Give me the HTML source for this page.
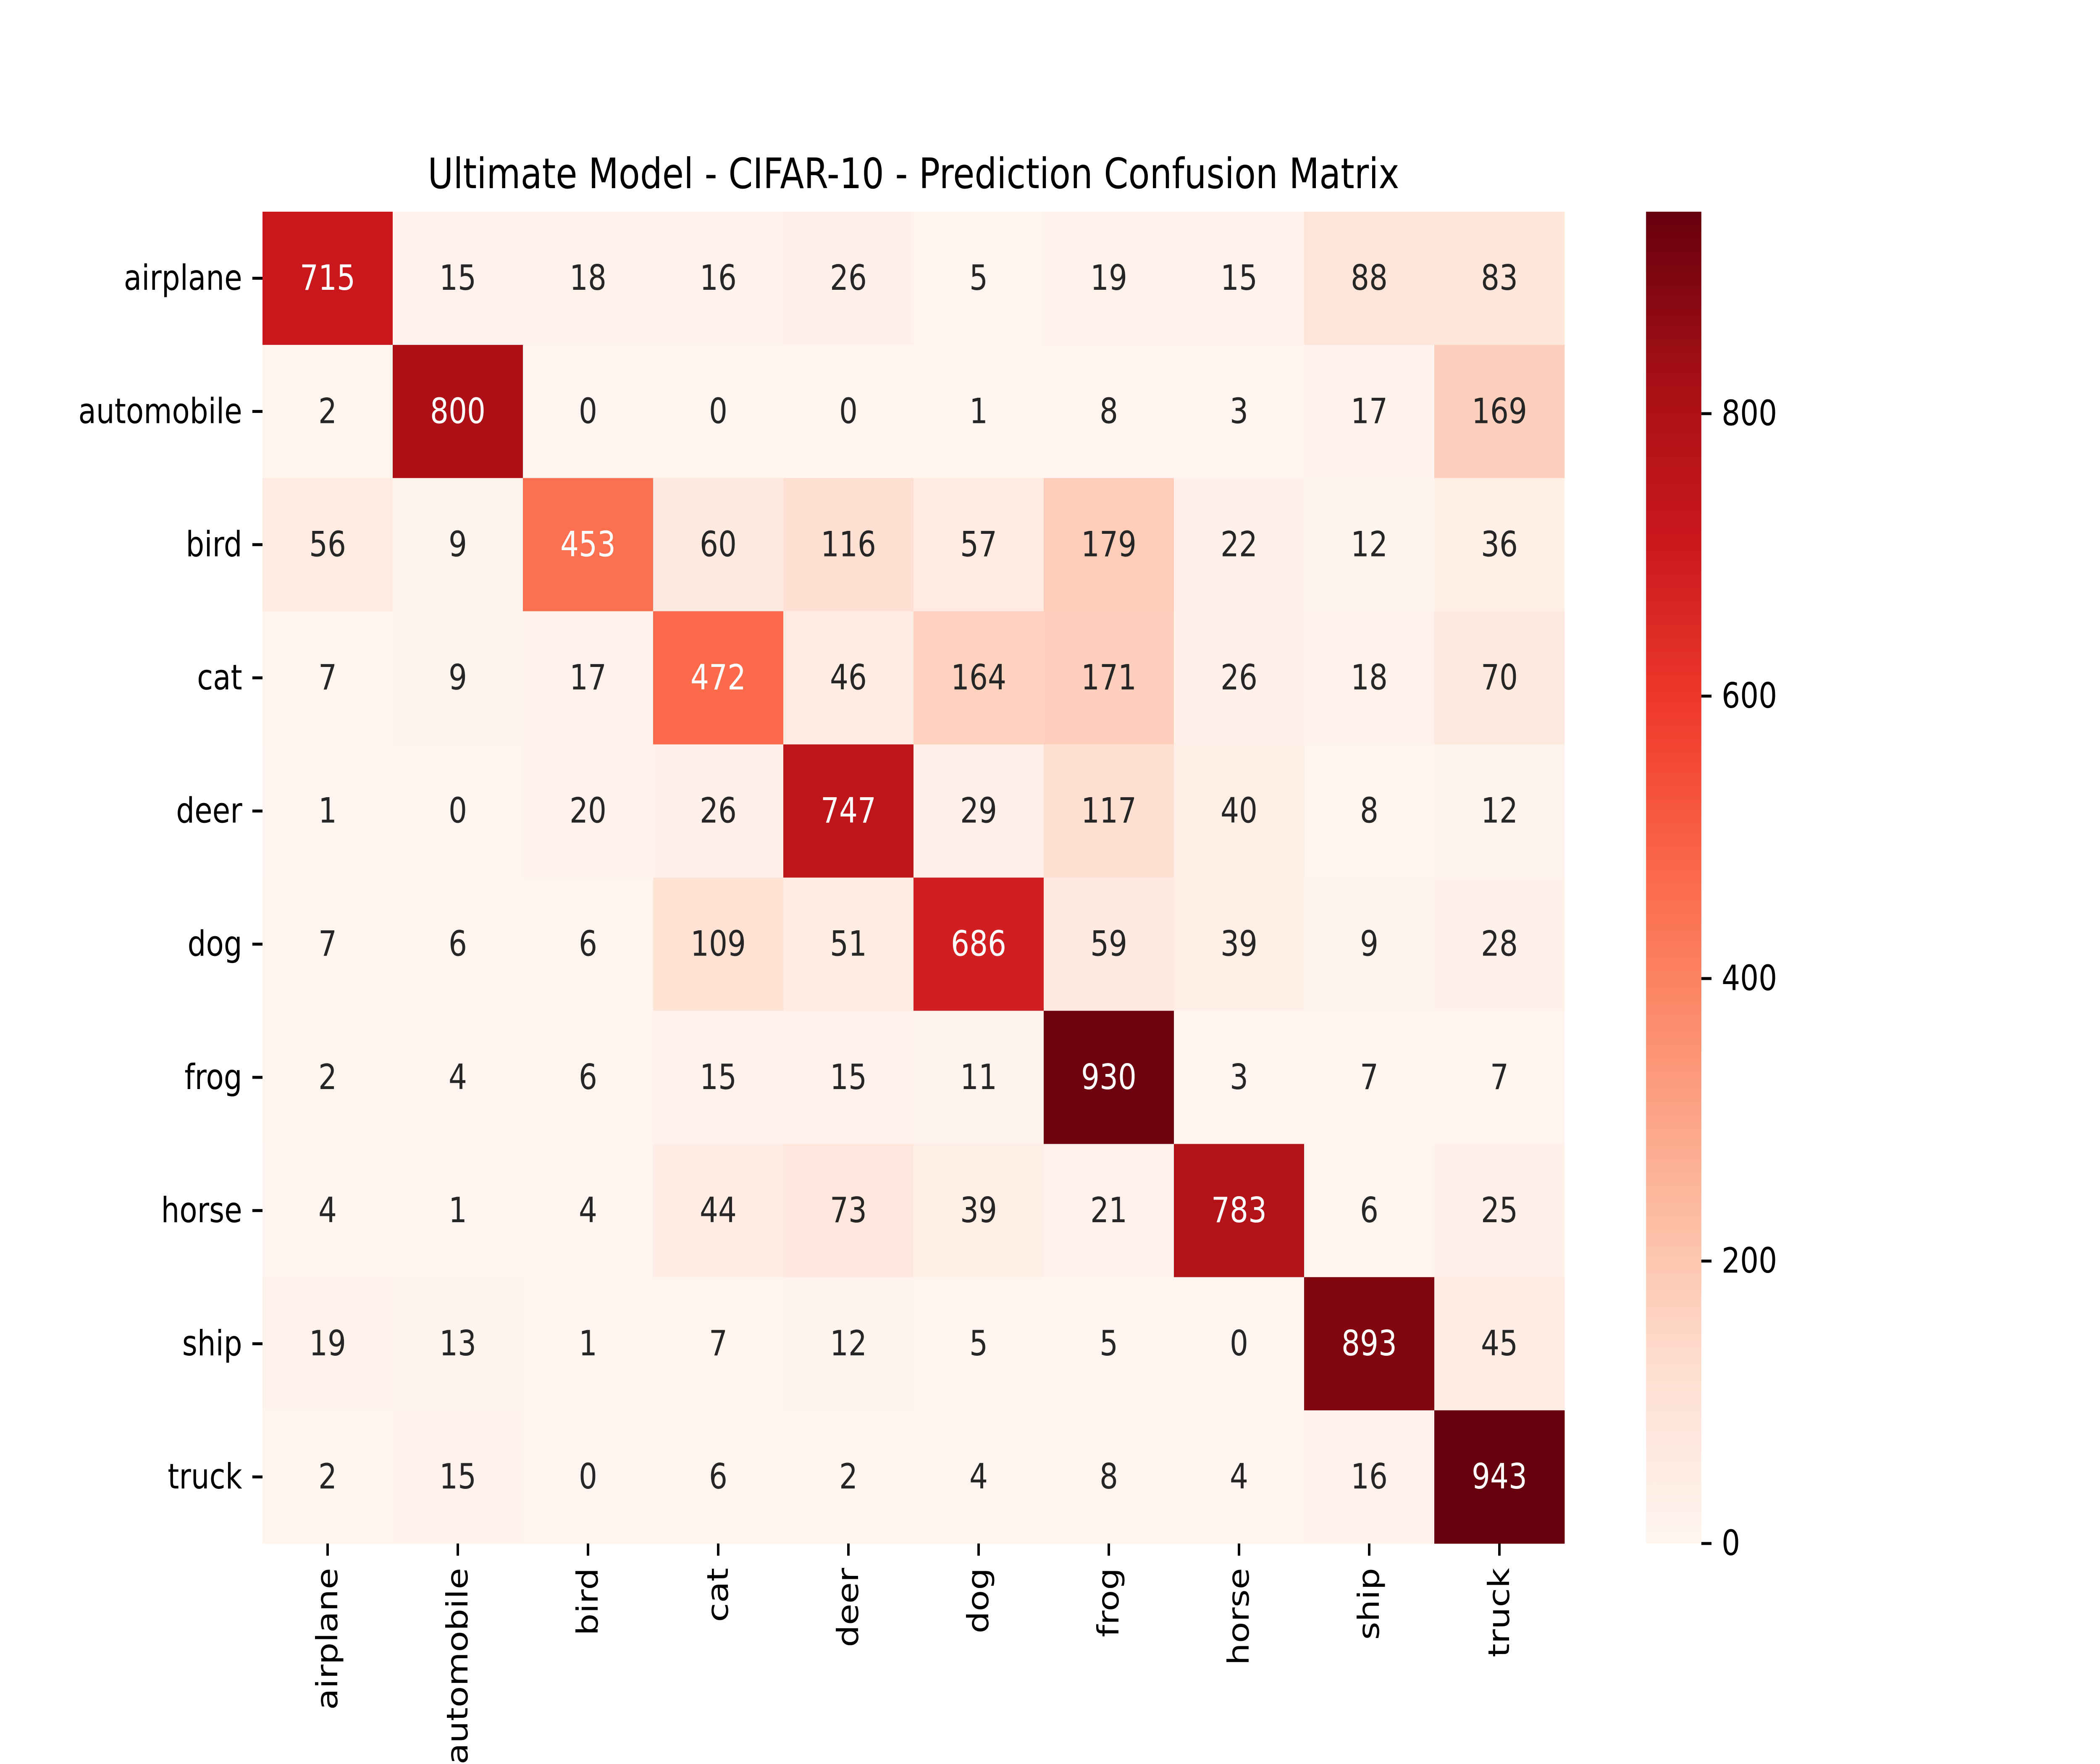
<!DOCTYPE html>
<html><head><meta charset="utf-8">
<style>html,body{margin:0;padding:0;background:#fff;width:100vw;height:100vh;overflow:hidden}svg{display:block;overflow:hidden;width:100vw;height:100vh}text{font-family:"DejaVu Sans","Liberation Sans",sans-serif}</style>
</head><body>
<svg id="chart" viewBox="0 0 6000 4200" preserveAspectRatio="none" xmlns="http://www.w3.org/2000/svg">
<rect width="6000" height="4200" fill="#fff"/>
<defs><linearGradient id="redsGrad" x1="0" y1="1" x2="0" y2="0"></linearGradient></defs>
<text x="2610" y="448" font-size="100" text-anchor="middle" fill="#000">Ultimate Model - CIFAR-10 - Prediction Confusion Matrix</text>
<g id="cells"></g><g id="ylabels"></g><g id="xlabels"></g><g id="cbar"></g>
</svg>
<script>
const classes = ["airplane","automobile","bird","cat","deer","dog","frog","horse","ship","truck"];
const row0 = [715,15,18,16,26,5,19,15,88,83];
const row1 = [2,800,0,0,0,1,8,3,17,169];
const row2 = [56,9,453,60,116,57,179,22,12,36];
const row3 = [7,9,17,472,46,164,171,26,18,70];
const row4 = [1,0,20,26,747,29,117,40,8,12];
const row5 = [7,6,6,109,51,686,59,39,9,28];
const row6 = [2,4,6,15,15,11,930,3,7,7];
const row7 = [4,1,4,44,73,39,21,783,6,25];
const row8 = [19,13,1,7,12,5,5,0,893,45];
const row9 = [2,15,0,6,2,4,8,4,16,943];
const matrix = [row0,row1,row2,row3,row4,row5,row6,row7,row8,row9];
const cbarTicks = [0,200,400,600,800];

const NS = "http://www.w3.org/2000/svg";
const L = 750, R = 4470, T = 504, B = 3675;
const n = classes.length;
const cw = (R - L) / n, ch = (B - T) / n;
const vmin = 0;
const vmax = Math.max(...matrix.flat());
const reds = ["#fff5f0","#fee0d2","#fcbba1","#fc9272","#fb6a4a","#ef3b2c","#cb181d","#a50f15","#67000d"];
function hex(h){return [1,3,5].map(i=>parseInt(h.substr(i,2),16));}
function colorRGB(v){
  let t = Math.max(0, Math.min(1, (v - vmin) / (vmax - vmin))) * (reds.length - 1);
  let i = Math.min(Math.floor(t), reds.length - 2), f = t - i;
  const a = hex(reds[i]), b = hex(reds[i+1]);
  return a.map((c,k)=>Math.round(c + (b[k]-c)*f));
}
function lum(rgb){
  const c = rgb.map(x=>{x/=255;return x<=0.03928?x/12.92:Math.pow((x+0.055)/1.055,2.4);});
  return 0.2126*c[0]+0.7152*c[1]+0.0722*c[2];
}
const xPos = j => L + j * cw;
const yPos = i => T + i * ch;
function mk(tag, attrs, parent){const e=document.createElementNS(NS,tag);for(const k in attrs)e.setAttribute(k,attrs[k]);parent.appendChild(e);return e;}

const cells = document.getElementById("cells");
matrix.forEach((row,i)=>row.forEach((v,j)=>{
  const rgb = colorRGB(v);
  const r = mk("rect",{x:xPos(j),y:yPos(i),width:cw+0.5,height:ch+0.5,fill:`rgb(${rgb.join(",")})`},cells);
  
  
  const t = mk("text",{x:xPos(j)+cw/2,y:yPos(i)+ch/2,"font-size":83,"text-anchor":"middle","dominant-baseline":"central",fill:lum(rgb)<0.408?"#ffffff":"#262626"},cells);
  t.textContent = v;
  
  
}));

const yl = document.getElementById("ylabels"), xl = document.getElementById("xlabels");
classes.forEach((c,i)=>{
  const yc = yPos(i)+ch/2;
  mk("line",{x1:L-29,x2:L,y1:yc,y2:yc,stroke:"#000","stroke-width":7},yl);
  const t = mk("text",{x:L-58,y:yc,"font-size":83,"text-anchor":"end","dominant-baseline":"central",fill:"#000"},yl);
  t.textContent = c;
  
  
  const xc = xPos(i)+cw/2;
  mk("line",{x1:xc,x2:xc,y1:B,y2:B+29,stroke:"#000","stroke-width":7},xl);
  const tx = mk("text",{x:0,y:0,"font-size":83,"text-anchor":"end","dominant-baseline":"central",fill:"#000",transform:`translate(${xc},${B+58}) rotate(-90)`},xl);
  tx.textContent = c;
  
  
});

const grad = document.getElementById("redsGrad");
reds.forEach((c,k)=>mk("stop",{offset:(k/(reds.length-1)),"stop-color":c},grad));
const cb = document.getElementById("cbar");
const CL = 4703, CR = 4861;
const cbr = mk("rect",{x:CL,y:T,width:CR-CL,height:B-T,fill:"url(#redsGrad)"},cb);


const cbY = v => B - (v - vmin)/(vmax - vmin)*(B - T);
cbarTicks.forEach(v=>{
  const y = cbY(v);
  mk("line",{x1:CR,x2:CR+29,y1:y,y2:y,stroke:"#000","stroke-width":7},cb);
  const t = mk("text",{x:CR+58,y:y,"font-size":83,"dominant-baseline":"central",fill:"#000"},cb);
  t.textContent = v;
  
  
});
</script>
</body></html>
